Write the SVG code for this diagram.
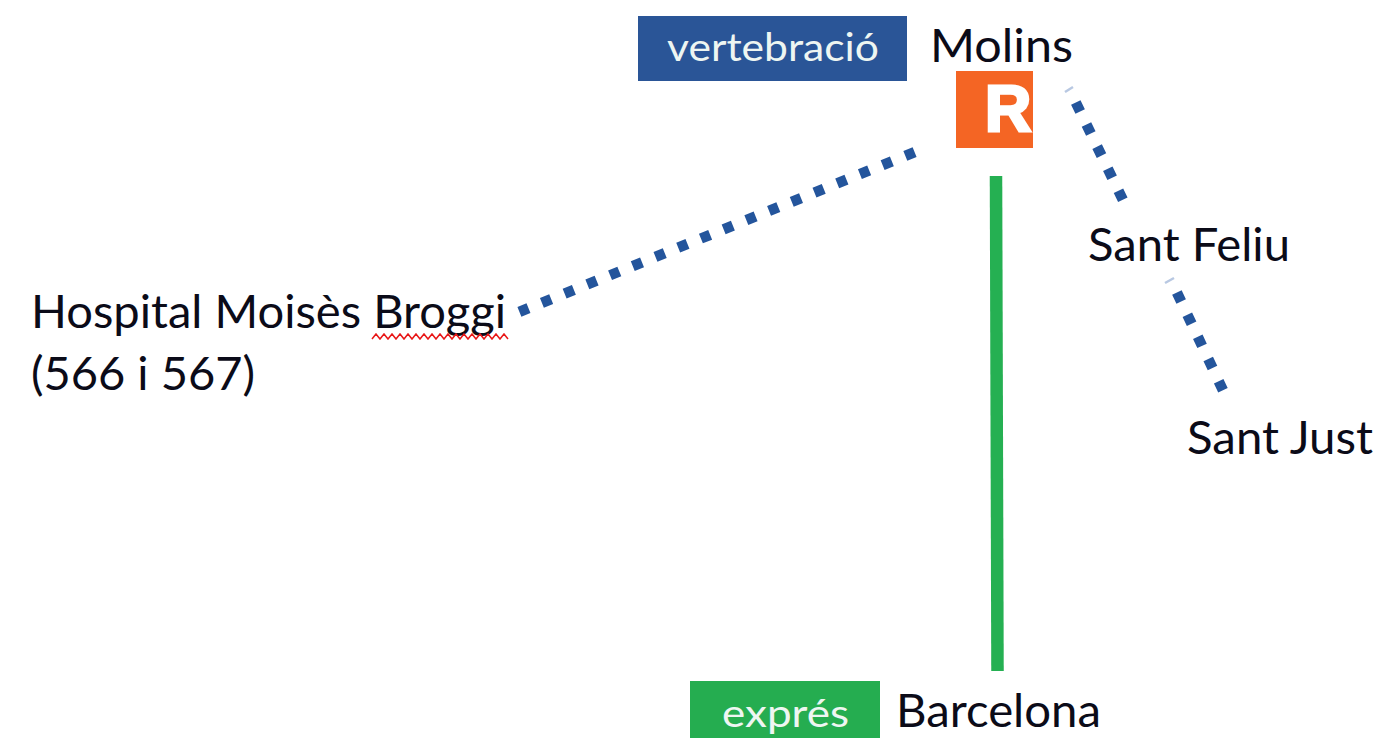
<svg xmlns="http://www.w3.org/2000/svg" width="1383" height="738" viewBox="0 0 1383 738">
<style>
.t{font-family:Lato,"Open Sans","DejaVu Sans",sans-serif;font-size:46px;fill:#0b0b18}
.w{font-family:Lato,"Open Sans","DejaVu Sans",sans-serif;font-size:38px;fill:#eef6f2}
.d{fill:none;stroke:#24559c;stroke-width:10.500;stroke-dasharray:10 14.500}
.f{fill:none;stroke:#b8c8e2;stroke-width:2.500}
</style>
<rect width="1383" height="738" fill="#fff"/>
<g id="connectors">
<path class="d" d="M914.600 152.100L519.400 311.900"/>
<path class="d" d="M1075.800 102.500L1123.200 200.500"/>
<path class="d" d="M1176.900 292.500L1223.100 390.500"/>
<path class="f" d="M1065 92L1073 87"/>
<path class="f" d="M1165 283L1174 278"/>
<path d="M996 176L997.500 671" fill="none" stroke="#25b052" stroke-width="12.500"/>
</g>
<g id="vertebracio"><rect x="638" y="16" width="269" height="65" fill="#2a5597"/><text class="w" x="667" y="61" textLength="212" lengthAdjust="spacingAndGlyphs">vertebració</text></g>
<g id="molins"><text class="t" x="930" y="62" textLength="143" lengthAdjust="spacingAndGlyphs">Molins</text></g>
<g id="r"><rect x="956" y="71" width="77" height="77" fill="#f46524"/><text x="1008" y="131" font-family="Liberation Sans,Arial,sans-serif" font-weight="bold" font-size="64" fill="#fff" stroke="#fff" stroke-width="3" text-anchor="middle">R</text></g>
<g id="santfeliu"><text class="t" x="1088" y="261" textLength="202" lengthAdjust="spacingAndGlyphs">Sant Feliu</text></g>
<g id="santjust"><text class="t" x="1187" y="454" textLength="186" lengthAdjust="spacingAndGlyphs">Sant Just</text></g>
<g id="hospital"><text class="t" x="31" y="328" textLength="475" lengthAdjust="spacingAndGlyphs">Hospital Moisès Broggi</text><text class="t" x="31" y="390" textLength="224" lengthAdjust="spacingAndGlyphs">(566 i 567)</text>
<path d="M372 339l4-5 4 5 4-5 4 5 4-5 4 5 4-5 4 5 4-5 4 5 4-5 4 5 4-5 4 5 4-5 4 5 4-5 4 5 4-5 4 5 4-5 4 5 4-5 4 5 4-5 4 5 4-5 4 5 4-5 4 5 4-5 4 5 4-5 4 5" fill="none" stroke="#e81818" stroke-width="1.500"/></g>
<g id="expres"><rect x="690" y="681" width="190" height="57" fill="#25ad50"/><text class="w" x="722" y="727" textLength="127" lengthAdjust="spacingAndGlyphs">exprés</text></g>
<g id="barcelona"><text class="t" x="896" y="727" textLength="205" lengthAdjust="spacingAndGlyphs">Barcelona</text></g>
</svg>
